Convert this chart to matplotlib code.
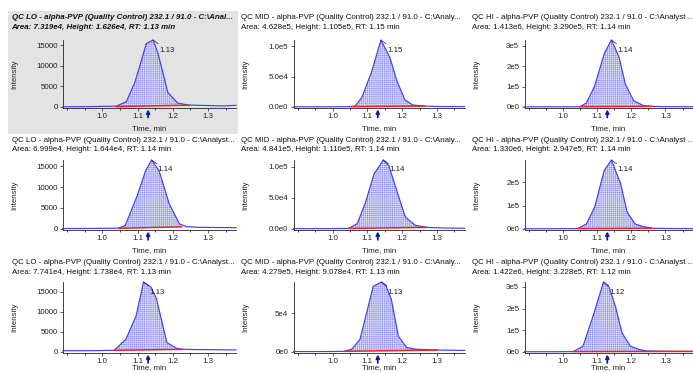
import numpy as np
import matplotlib
matplotlib.use("Agg")
import matplotlib.pyplot as plt
from matplotlib.patches import Rectangle

plt.rcParams['font.family'] = ['Liberation Sans', 'DejaVu Sans']
plt.rcParams['hatch.linewidth'] = 0.3

# ---------------- data ----------------
titles = [
    "QC LO - alpha-PVP (Quality Control) 232.1 / 91.0 - C:\\Anal...",
    "QC MID - alpha-PVP (Quality Control) 232.1 / 91.0 - C:\\Analy...",
    "QC HI - alpha-PVP (Quality Control) 232.1 / 91.0 - C:\\Analyst ...",
    "QC LO - alpha-PVP (Quality Control) 232.1 / 91.0 - C:\\Analyst...",
    "QC MID - alpha-PVP (Quality Control) 232.1 / 91.0 - C:\\Analy...",
    "QC HI - alpha-PVP (Quality Control) 232.1 / 91.0 - C:\\Analyst ...",
    "QC LO - alpha-PVP (Quality Control) 232.1 / 91.0 - C:\\Analyst...",
    "QC MID - alpha-PVP (Quality Control) 232.1 / 91.0 - C:\\Analy...",
    "QC HI - alpha-PVP (Quality Control) 232.1 / 91.0 - C:\\Analyst ...",
]
areas = ["7.319e4", "4.628e5", "1.413e6", "6.999e4", "4.841e5", "1.330e6", "7.741e4", "4.279e5", "1.422e6"]
heights = ["1.626e4", "1.105e5", "3.290e5", "1.644e4", "1.110e5", "2.947e5", "1.738e4", "9.078e4", "3.228e5"]
rts = ["1.13", "1.15", "1.14", "1.14", "1.14", "1.14", "1.13", "1.13", "1.12"]
expected_rt = 1.13

tA = [0.888, 0.95, 1.00, 1.03, 1.040, 1.068, 1.092, 1.110, 1.125, 1.144, 1.158, 1.172, 1.186, 1.214, 1.243, 1.30, 1.34, 1.379]
iA = [60, 80, 150, 180, 200, 1260, 5880, 11020, 15400, 16260, 13020, 8260, 3500, 950, 480, 350, 250, 400]
tB = [0.888, 0.95, 1.00, 1.04, 1.051, 1.065, 1.084, 1.112, 1.139, 1.165, 1.184, 1.208, 1.231, 1.265, 1.30, 1.379]
iB = [300, 300, 400, 500, 600, 1500, 15400, 57600, 110500, 81400, 44400, 11600, 3200, 1500, 800, 600]
tC = [0.888, 0.95, 1.00, 1.04, 1.050, 1.069, 1.093, 1.121, 1.142, 1.164, 1.183, 1.207, 1.235, 1.26, 1.30, 1.379]
iC = [800, 800, 900, 1000, 1500, 20000, 103000, 262000, 329000, 246000, 111000, 31000, 7000, 3000, 1500, 1200]
tD = [0.888, 0.96, 1.00, 1.035, 1.046, 1.065, 1.099, 1.123, 1.140, 1.161, 1.190, 1.219, 1.239, 1.27, 1.32, 1.379]
iD = [100, 120, 150, 170, 200, 790, 7930, 13880, 16440, 13880, 5950, 1190, 550, 400, 350, 300]
tE = [0.888, 0.95, 1.00, 1.035, 1.047, 1.071, 1.095, 1.119, 1.146, 1.162, 1.186, 1.209, 1.238, 1.271, 1.32, 1.379]
iE = [500, 500, 600, 800, 1000, 8500, 43100, 88300, 111000, 101600, 59100, 19200, 5800, 2500, 1500, 1200]
tF = [0.888, 0.95, 1.00, 1.035, 1.045, 1.069, 1.093, 1.121, 1.142, 1.169, 1.188, 1.211, 1.235, 1.264, 1.30, 1.379]
iF = [1000, 1000, 1200, 1500, 2000, 21500, 93100, 250000, 294700, 193100, 71700, 21500, 9900, 3000, 2000, 1500]
tG = [0.888, 0.95, 1.00, 1.025, 1.034, 1.067, 1.096, 1.117, 1.139, 1.154, 1.183, 1.212, 1.226, 1.26, 1.32, 1.379]
iG = [300, 300, 350, 400, 420, 3160, 8960, 17380, 16020, 13110, 2340, 850, 670, 600, 550, 500]
tH = [0.888, 0.95, 1.00, 1.03, 1.035, 1.055, 1.079, 1.117, 1.141, 1.154, 1.169, 1.189, 1.213, 1.242, 1.30, 1.379]
iH = [500, 500, 600, 800, 900, 3500, 16400, 85300, 90780, 85300, 68100, 20700, 5700, 3500, 2500, 2000]
tI = [0.888, 0.95, 1.00, 1.025, 1.031, 1.059, 1.088, 1.119, 1.135, 1.154, 1.173, 1.197, 1.221, 1.245, 1.30, 1.379]
iI = [1000, 1000, 1200, 1500, 1800, 27000, 164000, 322800, 300000, 209000, 88000, 27000, 12000, 4500, 3000, 2500]

times = [tA, tB, tC, tD, tE, tF, tG, tH, tI]
intens = [iA, iB, iC, iD, iE, iF, iG, iH, iI]

# integration window (start, end) and baseline values at those points
int_start = [1.040, 1.051, 1.050, 1.046, 1.047, 1.045, 1.034, 1.035, 1.031]
int_end = [1.245, 1.265, 1.260, 1.225, 1.272, 1.260, 1.226, 1.300, 1.379]
base_start = [100, 500, 1000, 150, 800, 1500, 400, 800, 1500]
base_end = [450, 1500, 3000, 500, 2500, 3000, 650, 2500, 2500]

xticks = [1.0, 1.1, 1.2, 1.3]
xticklabels = ["1.0", "1.1", "1.2", "1.3"]
yticks = [
    [0, 5000, 10000, 15000], [0, 50000, 100000], [0, 100000, 200000, 300000],
    [0, 5000, 10000, 15000], [0, 50000, 100000], [0, 100000, 200000],
    [0, 5000, 10000, 15000], [0, 50000], [0, 100000, 200000, 300000],
]
yticklabels = [
    ["0", "5000", "10000", "15000"], ["0.0e0", "5.0e4", "1.0e5"], ["0e0", "1e5", "2e5", "3e5"],
    ["0", "5000", "10000", "15000"], ["0.0e0", "5.0e4", "1.0e5"], ["0e0", "1e5", "2e5"],
    ["0", "5000", "10000", "15000"], ["0e0", "5e4"], ["0e0", "1e5", "2e5", "3e5"],
]

# ---------------- layout (pixels) ----------------
W, H = 693, 373
DPI = 100
fig = plt.figure(figsize=(W / DPI, H / DPI), dpi=DPI)
fig.patch.set_facecolor("white")

col_left = [62.7, 293.5, 524.5]
col_right = [236.0, 464.5, 692.5]
row_top = [40.0, 160.0, 282.0]
row_bot = [108.0, 230.0, 353.0]
title_x = [11.5, 241.0, 471.5]
title_y1 = [17.5, 140.0, 263.0]
time_label_off = [-21, -21, -15]

# selected panel background
fig.patches.append(Rectangle((8 / W, 1 - 134 / H), (238 - 8) / W, (134 - 11) / H,
                             transform=fig.transFigure, facecolor="#e3e3e3",
                             edgecolor="none", zorder=-10))

FS = 5.7
line_blue = "#4040ee"
red = "#ee2020"

for k in range(9):
    r, c = divmod(k, 3)
    x0, x1 = col_left[c], col_right[c]
    y0, y1 = row_top[r], row_bot[r]
    ax = fig.add_axes([x0 / W, 1 - y1 / H, (x1 - x0) / W, (y1 - y0) / H])
    ax.set_facecolor("none")
    t = np.array(times[k], dtype=float)
    v = np.array(intens[k], dtype=float)
    top = v.max()

    # integrated area
    s, e = int_start[k], int_end[k]
    m = (t >= s) & (t <= e)
    tf = np.concatenate([[s], t[m], [e]])
    vf = np.interp(tf, t, v)
    bf = np.interp(tf, [s, e], [base_start[k], base_end[k]])
    ax.fill_between(tf, bf, vf, facecolor="#e2e2fa", edgecolor="#8282ec",
                    hatch="++++++++", linewidth=0, zorder=1)
    ax.plot(t, v, color=line_blue, lw=0.85, zorder=3, clip_on=False)
    ax.plot([s, e], [base_start[k], base_end[k]], color=red, lw=1.1, zorder=4)

    ax.set_xlim(0.888, 1.379)
    ax.set_ylim(-0.015 * top, top)
    for sp in ("top", "right"):
        ax.spines[sp].set_visible(False)
    for sp in ("left", "bottom"):
        ax.spines[sp].set_linewidth(0.6)
        ax.spines[sp].set_color("#222222")
    ax.set_xticks(xticks)
    ax.set_xticklabels(xticklabels)
    ax.set_xticks(np.arange(0.90, 1.38, 0.05), minor=True)
    ax.set_yticks(yticks[k])
    ax.set_yticklabels(yticklabels[k])
    ax.tick_params(axis="both", labelsize=FS, length=2.2, width=0.5, pad=1.5, colors="#222222")
    ax.tick_params(axis="x", which="minor", length=1.2, width=0.5)

    # peak label
    ip = int(np.argmax(v))
    ax.annotate(rts[k], xy=(t[ip], v[ip]), xytext=(6, -10), textcoords="offset pixels",
                fontsize=FS, ha="left", va="center", color="#222222",
                arrowprops=dict(arrowstyle="-", lw=0.5, color="#222222",
                                shrinkA=0, shrinkB=0), annotation_clip=False, zorder=6)
    # expected RT arrow
    ax.annotate("", xy=(expected_rt, -0.02), xycoords=("data", "axes fraction"),
                xytext=(expected_rt, -0.14), textcoords=("data", "axes fraction"),
                arrowprops=dict(arrowstyle="-|>", lw=1.3, color="#0a1fa0",
                                mutation_scale=5, shrinkA=0, shrinkB=0),
                annotation_clip=False)
    # axis labels
    ax.annotate("Time, min", xy=(0.5, 0), xycoords="axes fraction", xytext=(0, time_label_off[r]),
                textcoords="offset pixels", ha="center", va="center", fontsize=FS,
                color="#222222", annotation_clip=False)
    ax.annotate("Intensity", xy=(0, 0.5), xycoords="axes fraction", xytext=(-48, 0),
                textcoords="offset pixels", ha="center", va="center", fontsize=FS,
                rotation=90, color="#222222", annotation_clip=False)

    # titles
    kw = dict(fontsize=FS, ha="left", va="center", color="#111111")
    if k == 0:
        kw.update(fontweight="bold", fontstyle="italic")
    fig.text(title_x[c] / W, 1 - title_y1[r] / H, titles[k], **kw)
    fig.text(title_x[c] / W, 1 - (title_y1[r] + 9.8) / H,
             f"Area: {areas[k]}, Height: {heights[k]}, RT: {rts[k]} min", **kw)

fig.savefig("out.png", dpi=DPI)
